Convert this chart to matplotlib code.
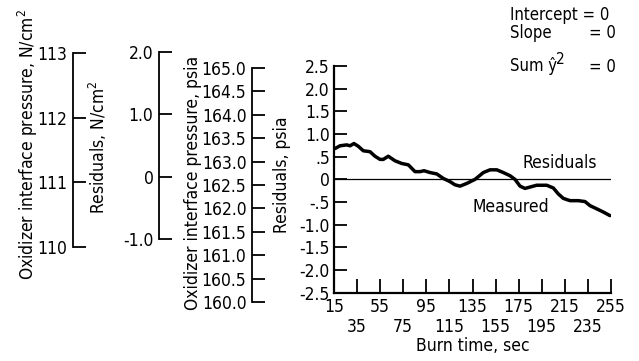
import matplotlib
matplotlib.use("Agg")
import matplotlib.pyplot as plt

# ---- data ----
burn_time = [15.9, 20.2, 26, 28.9, 32.3, 36, 40.4, 46.2, 50.5, 54.9, 57.7, 62, 67.8, 73.7,
             79.4, 85.2, 89.5, 93, 98.2, 104, 109.7, 115.5, 119.8, 124.2, 130, 137.2,
             144.4, 150.2, 156, 161.7, 167.5, 171.8, 176.2, 180.5, 184.8, 190.6, 199.3,
             205, 209.3, 213.7, 219.5, 226.7, 232.5, 236.8, 242.6, 248.3, 254.1]
residual_psia = [0.68, 0.74, 0.76, 0.74, 0.79, 0.73, 0.63, 0.61, 0.51, 0.44, 0.44, 0.51,
                 0.41, 0.35, 0.32, 0.17, 0.17, 0.19, 0.15, 0.12, 0.02, -0.05, -0.12,
                 -0.15, -0.09, 0.00, 0.15, 0.21, 0.21, 0.15, 0.08, 0.00, -0.15, -0.20,
                 -0.17, -0.13, -0.13, -0.19, -0.32, -0.42, -0.47, -0.47, -0.49, -0.58,
                 -0.65, -0.72, -0.80]

x_ticks_row1 = [15, 55, 95, 135, 175, 215, 255]
x_ticks_row2 = [35, 75, 115, 155, 195, 235]
main_y_ticks = [2.5, 2.0, 1.5, 1.0, 0.5, 0, -0.5, -1.0, -1.5, -2.0, -2.5]
main_y_labels = ["2.5", "2.0", "1.5", "1.0", ".5", "0", "-.5", "-1.0", "-1.5", "-2.0", "-2.5"]
psia_ticks = [165.0, 164.5, 164.0, 163.5, 163.0, 162.5, 162.0, 161.5, 161.0, 160.5, 160.0]
resid_ncm_ticks = [2.0, 1.0, 0, -1.0]
resid_ncm_labels = ["2.0", "1.0", "0", "-1.0"]
press_ncm_ticks = [113, 112, 111, 110]

plt.rcParams['font.family'] = ['DejaVu Sans']
plt.rcParams['font.stretch'] = 'condensed'
plt.rcParams['mathtext.fontset'] = 'custom'
plt.rcParams['mathtext.rm'] = 'DejaVu Sans'
plt.rcParams['mathtext.it'] = 'DejaVu Sans'

W, H = 639, 361
fig = plt.figure(figsize=(W / 100, H / 100), dpi=100)
FS = 12.5
LW = 1.3

def px_axes(left, right, top, bottom):
    return fig.add_axes([left / W, 1 - bottom / H, (right - left) / W, (bottom - top) / H])

def scale_axis(left, top, bottom, lo, hi, ticks, labels):
    ax = px_axes(left, left + 10, top, bottom)
    ax.set_ylim(lo, hi)
    ax.set_xlim(0, 1)
    for s in ['top', 'right', 'bottom']:
        ax.spines[s].set_visible(False)
    ax.spines['left'].set_linewidth(LW)
    ax.set_xticks([])
    ax.set_yticks(ticks)
    ax.set_yticklabels(labels)
    ax.tick_params(axis='y', direction='in', length=9, width=LW, pad=4, labelsize=FS)
    ax.patch.set_visible(False)
    return ax

# auxiliary scales
scale_axis(73, 53, 247, 110, 113, press_ncm_ticks, [str(t) for t in press_ncm_ticks])
scale_axis(159, 52, 239, -1.0, 2.0, resid_ncm_ticks, resid_ncm_labels)
scale_axis(252, 68, 302, 160.0, 165.0, psia_ticks, ["%.1f" % t for t in psia_ticks])

# main axes
ax = px_axes(334, 611, 66, 292.7)
ax.set_xlim(15, 255)
ax.set_ylim(-2.5, 2.5)
ax.patch.set_visible(False)
for s in ['top', 'right']:
    ax.spines[s].set_visible(False)
for s in ['left', 'bottom']:
    ax.spines[s].set_linewidth(LW + 0.3)
ax.set_yticks(main_y_ticks)
ax.set_yticklabels(main_y_labels)
ax.set_xticks(x_ticks_row1)
ax.set_xticklabels([str(t) for t in x_ticks_row1])
ax.set_xticks(x_ticks_row2, minor=True)
ax.set_xticklabels([str(t) for t in x_ticks_row2], minor=True)
ax.tick_params(axis='y', direction='in', length=9, width=LW, pad=3, labelsize=FS)
ax.tick_params(axis='x', which='major', direction='in', length=10, width=LW, pad=4, labelsize=FS)
ax.tick_params(axis='x', which='minor', direction='in', length=10, width=LW, pad=18, labelsize=FS)

ax.axhline(0, color='black', lw=0.9)
ax.plot(burn_time, residual_psia, color='black', lw=2.5, solid_capstyle='round',
        solid_joinstyle='round')
ax.text(211, 0.35, "Residuals", fontsize=FS, ha='center', va='center')
ax.text(168, -0.61, "Measured", fontsize=FS, ha='center', va='center')
ax.set_xlabel("Burn time, sec", fontsize=FS, labelpad=1)

# axis titles
def vlabel(x, y, s):
    fig.text(x / W, 1 - y / H, s, rotation=90, ha='center', va='center', fontsize=FS)

vlabel(28, 145, "Oxidizer interface pressure, N/cm$^2$")
vlabel(98, 147, "Residuals, N/cm$^2$")
vlabel(193, 183, "Oxidizer interface pressure, psia")
vlabel(282, 175, "Residuals, psia")

# statistics block
def t(x, y, s, fs=FS - 0.5, **kw):
    fig.text(x / W, 1 - y / H, s, ha='left', va='center', fontsize=fs, **kw)

t(510, 15.5, "Intercept = 0")
t(510, 33, "Slope")
t(589, 33, "= 0")
t(510, 66, "Sum \u0177")
t(556, 59, "2", fs=FS - 1.5)
t(589, 67, "= 0")

fig.savefig("out.png", dpi=100)
